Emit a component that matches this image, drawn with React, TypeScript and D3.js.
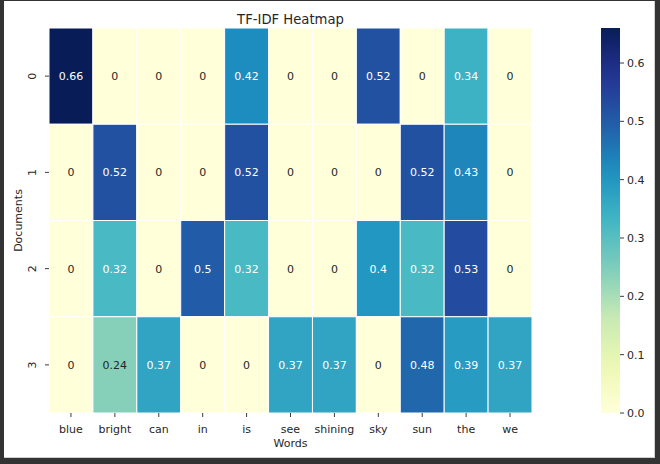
import React from "react";
import * as d3 from "d3";

const words = ["blue", "bright", "can", "in", "is", "see", "shining", "sky", "sun", "the", "we"];
const documents = ["0", "1", "2", "3"];
const doc0 = [0.66, 0, 0, 0, 0.42, 0, 0, 0.52, 0, 0.34, 0];
const doc1 = [0, 0.52, 0, 0, 0.52, 0, 0, 0, 0.52, 0.43, 0];
const doc2 = [0, 0.32, 0, 0.5, 0.32, 0, 0, 0.4, 0.32, 0.53, 0];
const doc3 = [0, 0.24, 0.37, 0, 0, 0.37, 0.37, 0, 0.48, 0.39, 0.37];
const rows = [doc0, doc1, doc2, doc3];
const cbarTicks = [0, 0.1, 0.2, 0.3, 0.4, 0.5, 0.6];
const ylgnbu = ["#ffffd9", "#edf8b1", "#c7e9b4", "#7fcdbb", "#41b6c4", "#1d91c0", "#225ea8", "#253494", "#081d58"];

const W = 660;
const H = 464;
const left = 49, right = 532, top = 28, bottom = 413;
const cbL = 601, cbR = 620;
const FONT = "DejaVu Sans, sans-serif";
const TXT = "#262626";

function luminance(c: string) {
  const rgb = d3.rgb(c);
  const f = (v: number) => {
    v = v / 255;
    return v <= 0.03928 ? v / 12.92 : Math.pow((v + 0.055) / 1.055, 2.4);
  };
  return 0.2126 * f(rgb.r) + 0.7152 * f(rgb.g) + 0.0722 * f(rgb.b);
}

export default function App() {
  const vmax = d3.max(rows.flat()) as number;
  const interp = d3.piecewise(d3.interpolateRgb, ylgnbu);
  const color = d3.scaleSequential(interp).domain([0, vmax]);
  const x = d3.scaleBand().domain(words).range([left, right]);
  const y = d3.scaleBand().domain(documents).range([top, bottom]);
  const cy = d3.scaleLinear().domain([0, vmax]).range([bottom, top]);
  const fmt = d3.format(".2~g");
  const stops = d3.range(0, 1.0001, 0.05);

  return (
    <svg width={W} height={H} style={{ position: "absolute", left: 0, top: 0 }} fontFamily={FONT}>
      <defs>
        <linearGradient id="cb" x1="0" y1="1" x2="0" y2="0">
          {stops.map((s) => (
            <stop key={s} offset={s} stopColor={interp(s)} />
          ))}
        </linearGradient>
      </defs>
      <rect x={0} y={0} width={W} height={H} fill="#333333" />
      <rect x={4} y={1} width={651} height={457} fill="#d0d0d0" />
      <rect x={4} y={1} width={650} height={456} fill="#ffffff" />

      <text x={(left + right) / 2} y={24} textAnchor="middle" fontSize={13.2} fill={TXT}>TF-IDF Heatmap</text>

      {rows.map((r, i) =>
        r.map((v, j) => {
          const fill = color(v) as string;
          const tc = luminance(fill) > 0.408 ? TXT : "#ffffff";
          const xx = x(words[j]) as number;
          const yy = y(documents[i]) as number;
          return (
            <g key={`${i}-${j}`}>
              <rect x={xx} y={yy} width={x.bandwidth()} height={y.bandwidth()} fill={fill} stroke="#ffffff" strokeWidth={1} />
              <text x={xx + x.bandwidth() / 2} y={yy + y.bandwidth() / 2} dy="0.36em" textAnchor="middle" fontSize={11} fill={tc}>
                {fmt(v)}
              </text>
            </g>
          );
        })
      )}

      {words.map((w) => {
        const cx = (x(w) as number) + x.bandwidth() / 2;
        return (
          <g key={w}>
            <line x1={cx} x2={cx} y1={bottom} y2={bottom + 4} stroke={TXT} strokeWidth={0.9} />
            <text x={cx} y={433} textAnchor="middle" fontSize={11} fill={TXT}>{w}</text>
          </g>
        );
      })}
      <text x={(left + right) / 2} y={447} textAnchor="middle" fontSize={11} fill={TXT}>Words</text>

      {documents.map((d) => {
        const cyy = (y(d) as number) + y.bandwidth() / 2;
        return (
          <g key={d}>
            <line x1={left - 4} x2={left} y1={cyy} y2={cyy} stroke={TXT} strokeWidth={0.9} />
            <text transform={`translate(36,${cyy}) rotate(-90)`} textAnchor="middle" fontSize={11} fill={TXT}>{d}</text>
          </g>
        );
      })}
      <text transform={`translate(22,${(top + bottom) / 2}) rotate(-90)`} textAnchor="middle" fontSize={11} fill={TXT}>Documents</text>

      <rect x={cbL} y={top} width={cbR - cbL} height={bottom - top} fill="url(#cb)" />
      {cbarTicks.map((t) => (
        <g key={t}>
          <line x1={cbR} x2={cbR + 4} y1={cy(t)} y2={cy(t)} stroke={TXT} strokeWidth={0.9} />
          <text x={cbR + 7} y={cy(t)} dy="0.36em" fontSize={11} fill={TXT}>{t.toFixed(1)}</text>
        </g>
      ))}
    </svg>
  );
}
